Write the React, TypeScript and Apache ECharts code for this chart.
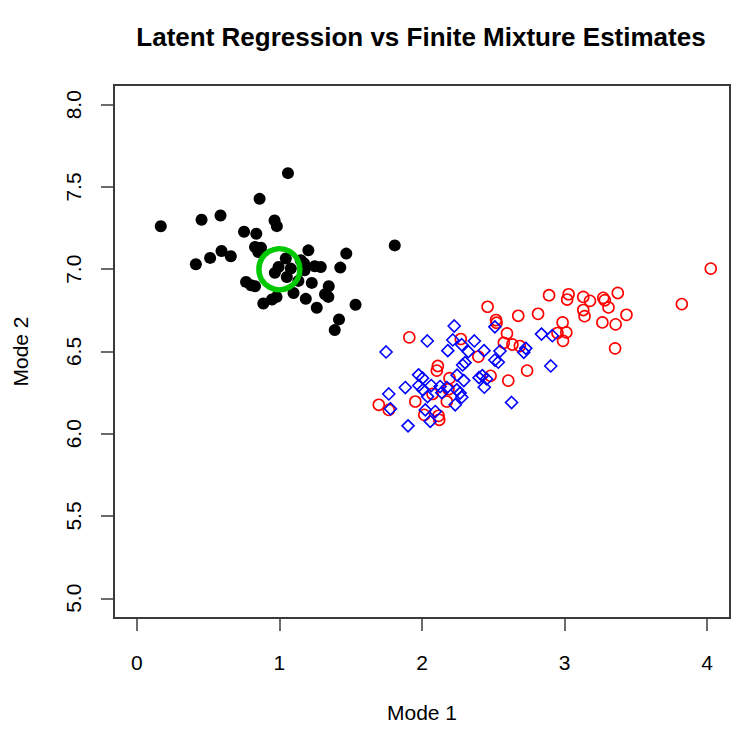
import React, { useEffect, useRef } from "react";
import * as echarts from "echarts";

const titleText = "Latent Regression vs Finite Mixture Estimates";
const xName = "Mode 1";
const yName = "Mode 2";
const xTicks = [0, 1, 2, 3, 4];
const yTicks = [5.0, 5.5, 6.0, 6.5, 7.0, 7.5, 8.0];

// latent regression estimates (black filled dots)
const latentPoints = [
  [0.168, 7.261], [0.414, 7.03], [0.454, 7.301], [0.514, 7.069], [0.587, 7.327],
  [0.594, 7.111], [0.659, 7.079], [0.752, 7.228], [0.766, 6.923], [0.801, 6.903],
  [0.829, 6.897], [0.829, 7.135], [0.838, 7.216], [0.852, 7.105], [0.861, 7.428],
  [0.871, 7.131], [0.887, 6.792], [0.948, 6.816], [0.966, 7.297], [0.968, 6.978],
  [0.98, 6.832], [0.982, 7.262], [0.994, 7.014], [1.045, 7.065], [1.052, 6.953],
  [1.06, 7.584], [1.08, 7.004], [1.099, 6.856], [1.133, 6.929], [1.15, 7.055],
  [1.173, 7.035], [1.176, 6.994], [1.185, 6.82], [1.203, 7.115], [1.227, 6.917],
  [1.248, 7.018], [1.262, 6.766], [1.29, 7.014], [1.32, 6.848], [1.343, 6.832],
  [1.346, 6.897], [1.388, 6.63], [1.418, 6.695], [1.427, 7.01], [1.469, 7.095],
  [1.534, 6.784], [1.809, 7.145],
];

// true centre (green ring)
const centrePoint = [[1, 7]];

// finite mixture estimates, component 1 (red open circles)
const mixtureRed = [
  [1.697, 6.176], [1.767, 6.145], [1.911, 6.586], [1.953, 6.196], [2.016, 6.115],
  [2.074, 6.242], [2.104, 6.384], [2.111, 6.412], [2.116, 6.109], [2.121, 6.085],
  [2.174, 6.196], [2.186, 6.271], [2.193, 6.338], [2.272, 6.576], [2.395, 6.469],
  [2.46, 6.772], [2.481, 6.352], [2.519, 6.691], [2.523, 6.675], [2.574, 6.553],
  [2.596, 6.61], [2.605, 6.323], [2.634, 6.543], [2.675, 6.717], [2.686, 6.533],
  [2.737, 6.384], [2.814, 6.729], [2.891, 6.842], [2.95, 6.612], [2.986, 6.677],
  [2.989, 6.565], [3.012, 6.616], [3.018, 6.816], [3.028, 6.848], [3.131, 6.832],
  [3.131, 6.752], [3.14, 6.715], [3.178, 6.808], [3.265, 6.677], [3.271, 6.826],
  [3.282, 6.812], [3.308, 6.768], [3.354, 6.519], [3.358, 6.665], [3.373, 6.856],
  [3.434, 6.723], [3.822, 6.788], [4.025, 7.004],
];

// finite mixture estimates, component 2 (blue open diamonds)
const mixtureBlue = [
  [1.748, 6.497], [1.767, 6.242], [1.779, 6.152], [1.883, 6.281], [1.902, 6.048],
  [1.976, 6.358], [1.978, 6.293], [2.004, 6.338], [2.006, 6.267], [2.023, 6.145],
  [2.037, 6.564], [2.039, 6.226], [2.058, 6.075], [2.065, 6.293], [2.093, 6.135],
  [2.127, 6.287], [2.139, 6.25], [2.174, 6.281], [2.181, 6.505], [2.216, 6.57],
  [2.226, 6.655], [2.233, 6.176], [2.244, 6.267], [2.246, 6.356], [2.267, 6.247],
  [2.279, 6.541], [2.279, 6.222], [2.285, 6.418], [2.293, 6.323], [2.302, 6.432],
  [2.325, 6.499], [2.367, 6.564], [2.4, 6.341], [2.423, 6.353], [2.435, 6.505],
  [2.437, 6.283], [2.453, 6.333], [2.511, 6.65], [2.511, 6.448], [2.535, 6.435],
  [2.547, 6.503], [2.628, 6.19], [2.714, 6.495], [2.728, 6.519], [2.838, 6.606],
  [2.903, 6.412], [2.914, 6.596],
];

const FONT = "'Liberation Sans', Arial, Helvetica, sans-serif";
const AXIS_COLOR = "#3a3a3a";

export default function App() {
  const ref = useRef<HTMLDivElement>(null);

  useEffect(() => {
    document.body.style.margin = "0";
    if (!ref.current) return;
    const chart = echarts.init(ref.current, null, { renderer: "svg" });
    chart.setOption({
      animation: false,
      backgroundColor: "#ffffff",
      textStyle: { fontFamily: FONT },
      title: {
        text: titleText,
        left: 416,
        top: 19,
        textAlign: "center",
        textStyle: { fontFamily: FONT, fontSize: 26, fontWeight: "bold", color: "#000" },
      },
      grid: {
        left: 114,
        top: 85,
        width: 616,
        height: 533,
        show: true,
        borderColor: AXIS_COLOR,
        borderWidth: 2,
        backgroundColor: "transparent",
      },
      xAxis: {
        type: "value",
        min: -0.16,
        max: 4.16,
        name: xName,
        nameLocation: "middle",
        nameGap: 84,
        nameTextStyle: { fontFamily: FONT, fontSize: 21, color: "#000" },
        axisLine: { show: false, onZero: false },
        splitLine: { show: false },
        axisTick: {
          show: true,
          length: 13,
          inside: false,
          customValues: xTicks,
          lineStyle: { color: AXIS_COLOR, width: 1.5 },
        },
        axisLabel: {
          customValues: xTicks,
          margin: 34,
          fontFamily: FONT,
          fontSize: 21,
          color: "#000",
          formatter: (v: number) => String(v),
        },
      },
      yAxis: {
        type: "value",
        min: 4.88,
        max: 8.12,
        name: yName,
        nameLocation: "middle",
        nameGap: 83,
        nameRotate: 90,
        nameTextStyle: { fontFamily: FONT, fontSize: 21, color: "#000" },
        axisLine: { show: false, onZero: false },
        splitLine: { show: false },
        axisTick: {
          show: true,
          length: 13,
          inside: false,
          customValues: yTicks,
          lineStyle: { color: AXIS_COLOR, width: 1.5 },
        },
        axisLabel: {
          customValues: yTicks,
          rotate: 90,
          margin: 30,
          fontFamily: FONT,
          fontSize: 21,
          color: "#000",
          formatter: (v: number) => v.toFixed(1),
        },
      },
      series: [
        {
          type: "scatter",
          data: latentPoints,
          symbol: "circle",
          symbolSize: 12,
          itemStyle: { color: "#000000", opacity: 1 },
          z: 2,
        },
        {
          type: "scatter",
          data: centrePoint,
          symbol: "circle",
          symbolSize: 41,
          itemStyle: { color: "transparent", borderColor: "#00c800", borderWidth: 5.5, opacity: 1 },
          z: 3,
        },
        {
          type: "scatter",
          data: mixtureRed,
          symbol: "circle",
          symbolSize: 11,
          itemStyle: { color: "transparent", borderColor: "#ff0000", borderWidth: 1.6, opacity: 1 },
          z: 4,
        },
        {
          type: "scatter",
          data: mixtureBlue,
          symbol: "diamond",
          symbolSize: 12,
          itemStyle: { color: "transparent", borderColor: "#0000ff", borderWidth: 1.6, opacity: 1 },
          z: 5,
        },
      ],
    });
    return () => chart.dispose();
  }, []);

  return <div ref={ref} style={{ width: 750, height: 730 }} />;
}
